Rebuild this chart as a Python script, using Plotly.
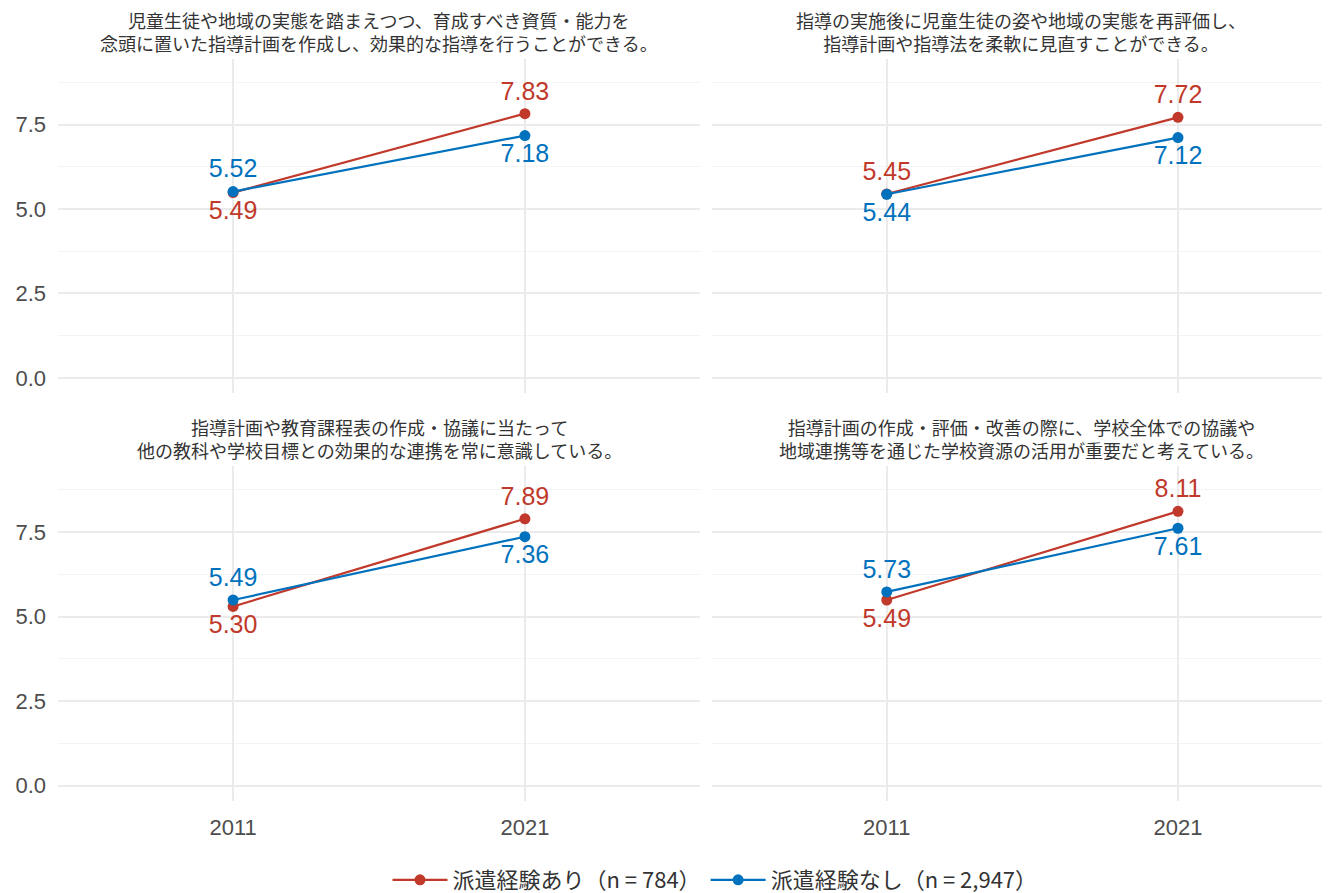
import plotly.graph_objects as go

# data
years = ["2011", "2021"]
titles = [
    "児童生徒や地域の実態を踏まえつつ、育成すべき資質・能力を<br>念頭に置いた指導計画を作成し、効果的な指導を行うことができる。",
    "指導の実施後に児童生徒の姿や地域の実態を再評価し、<br>指導計画や指導法を柔軟に見直すことができる。",
    "指導計画や教育課程表の作成・協議に当たって<br>他の教科や学校目標との効果的な連携を常に意識している。",
    "指導計画の作成・評価・改善の際に、学校全体での協議や<br>地域連携等を通じた学校資源の活用が重要だと考えている。",
]
with_exp = [[5.49, 7.83], [5.45, 7.72], [5.30, 7.89], [5.49, 8.11]]
without_exp = [[5.52, 7.18], [5.44, 7.12], [5.49, 7.36], [5.73, 7.61]]
series_names = ["派遣経験あり（n = 784）", "派遣経験なし（n = 2,947）"]
colors = ["#C0392B", "#0072BD"]

# the page body has an 8px margin, so the figure is 8px smaller and
# screen positions below are shifted by it
OFF = 8
W, H = 1330 - OFF, 893 - OFF
ML, MR, MT, MB = 58 - OFF, 0, 59 - OFF, 92
pw = W - ML - MR
ph = H - MT - MB

def px_x(a, b):
    return [(a - OFF - ML) / pw, (b - OFF - ML) / pw]

def px_y(top, bottom):
    return [(H - MB - (bottom - OFF)) / ph, (H - MB - (top - OFF)) / ph]

xdoms = [px_x(58, 700), px_x(712, 1330)]
ydoms = [px_y(59, 393), px_y(466, 801)]
xranges = [[-0.6, 1.6], [-0.6, 1.522]]

num_font = "Liberation Sans, Arial, Noto Sans CJK JP"
cjk_font = "Noto Sans CJK JP, Liberation Sans"

fig = go.Figure()

for i in range(4):
    r, c = divmod(i, 2)
    ax = "" if i == 0 else str(i + 1)
    for s, vals in enumerate([with_exp[i], without_exp[i]]):
        other = without_exp[i] if s == 0 else with_exp[i]
        pos = ["top center" if v >= o else "bottom center" for v, o in zip(vals, other)]
        fig.add_trace(go.Scatter(
            x=years, y=vals, mode="lines+markers+text",
            text=[f"{v:.2f}" for v in vals], textposition=pos,
            textfont=dict(size=25, color=colors[s], family=num_font),
            line=dict(color=colors[s], width=2.2),
            marker=dict(color=colors[s], size=11),
            name=series_names[s], legendgroup=str(s), showlegend=(i == 0),
            xaxis="x" + ax, yaxis="y" + ax, cliponaxis=False,
        ))
    fig.layout["xaxis" + ax] = dict(
        domain=xdoms[c], anchor="y" + ax, type="category", automargin=False,
        range=xranges[c], showgrid=True, gridcolor="#EBEBEB", gridwidth=1.6,
        zeroline=False, showline=False, ticks="",
        showticklabels=(r == 1), tickfont=dict(size=22, color="#4D4D4D", family=num_font),
        ticklabelstandoff=11,
    )
    fig.layout["yaxis" + ax] = dict(
        domain=ydoms[r], anchor="x" + ax, range=[-0.45, 9.45], automargin=False,
        tickvals=[0, 2.5, 5, 7.5], ticktext=["0.0", "2.5", "5.0", "7.5"],
        showgrid=True, gridcolor="#EBEBEB", gridwidth=1.6,
        minor=dict(tickvals=[1.25, 3.75, 6.25, 8.75], showgrid=True,
                   gridcolor="#F4F4F4", gridwidth=1),
        zeroline=False, showline=False, ticks="",
        showticklabels=(c == 0), tickfont=dict(size=22, color="#4D4D4D", family=num_font),
        ticklabelstandoff=11,
    )
    fig.add_annotation(
        text=titles[i], xref="paper", yref="paper",
        x=sum(xdoms[c]) / 2, y=ydoms[r][1], xanchor="center", yanchor="bottom",
        yshift=1, showarrow=False, align="center",
        font=dict(size=18, color="#333333", family=cjk_font),
    )

fig.update_layout(
    width=W, height=H,
    margin=dict(l=ML, r=MR, t=MT, b=MB, autoexpand=False),
    paper_bgcolor="white", plot_bgcolor="white",
    showlegend=True,
    legend=dict(orientation="h", x=(715 - OFF - ML) / pw, xanchor="center",
                y=(H - MB - (880 - OFF)) / ph, yanchor="middle",
                font=dict(size=22, color="#333333", family=cjk_font),
                itemwidth=55, tracegroupgap=0),
)

fig.write_html("out.html")
